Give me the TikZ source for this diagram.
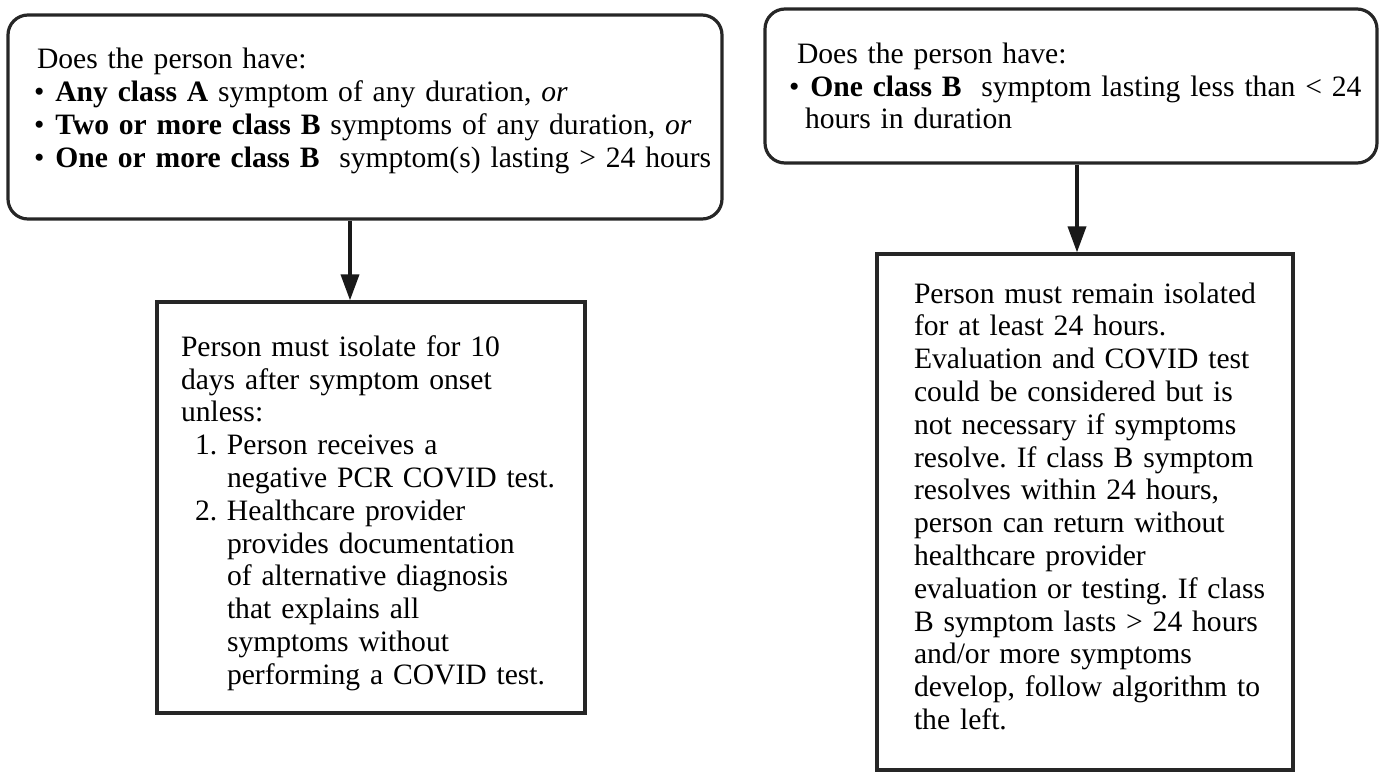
\documentclass[tikz,border=0pt]{standalone}
\usepackage{fontspec}
\setmainfont{Liberation Serif}
\usetikzlibrary{arrows.meta}

\newcommand\bul{\textbullet\hspace{5.5pt}}
\frenchspacing

\begin{document}
\begin{tikzpicture}[x=0.5pt,y=-0.5pt,
	every node/.style={font=\fontsize{14.8}{16.4}\selectfont, align=left, inner xsep=5pt, inner ysep=0pt},
	qbox/.style={draw=black!85, line width=1.6pt, rounded corners=10pt, inner xsep=2pt},
	abox/.style={draw=black!85, line width=1.6pt},
	arr/.style={draw=black!90, line width=1.8pt, -{Triangle[length=13pt,width=9pt]}}]
	\useasboundingbox (0,0) rectangle (1382,772);
	% left: question and answer
	\node[qbox, text width=353pt, minimum height=102pt] (q1) at (365,117) {\leftskip=12.5pt
		Does the person have:\\
		\hspace*{-1.5pt}\bul\textbf{Any class A} symptom of any duration, \textit{or}\\
		\hspace*{-1.5pt}\bul\textbf{Two or more class B} symptoms of any duration, \textit{or}\\
		\hspace*{-1.5pt}\bul\textbf{One or more class B}\ \ symptom(s) lasting > 24 hours\rule[-9.3pt]{0pt}{0pt}\par};
	\node[abox, text width=204pt, minimum height=205.5pt] (a1) at (371,507.5) {\leftskip=7pt
		\rule{0pt}{16pt}Person must isolate for 10\\
		days after symptom onset\\
		unless:\\
		\makebox[23pt][l]{\hspace{7pt}1.}Person receives a\\
		\hspace*{23pt}negative PCR COVID test.\\
		\makebox[23pt][l]{\hspace{7pt}2.}Healthcare provider\\
		\hspace*{23pt}provides documentation\\
		\hspace*{23pt}of alternative diagnosis\\
		\hspace*{23pt}that explains all\\
		\hspace*{23pt}symptoms without\\
		\hspace*{23pt}performing a COVID test.\par};
	% right: question and answer
	\node[qbox, text width=302pt, minimum height=77pt] (q2) at (1071,86) {\leftskip=14pt
		Does the person have:\\
		\hspace*{-4pt}\bul\textbf{One class B}\ \ symptom lasting less than < 24\\
		\hspace*{4pt}hours in duration\par};
	\node[abox, text width=198pt, minimum height=258pt] (a2) at (1085,512) {\leftskip=13.5pt
		Person must remain isolated\\
		for at least 24 hours.\\
		Evaluation and COVID test\\
		could be considered but is\\
		not necessary if symptoms\\
		resolve. If class B symptom\\
		resolves within 24 hours,\\
		person can return without\\
		healthcare provider\\
		evaluation or testing. If class\\
		B symptom lasts > 24 hours\\
		and/or more symptoms\\
		develop, follow algorithm to\\
		the left.\rule[-6pt]{0pt}{0pt}\par};
	\draw[arr] ([xshift=-7.5pt]q1.south) -- ([xshift=-7.5pt]q1.south |- a1.north);
	\draw[arr] ([xshift=3pt]q2.south) -- ([xshift=3pt]q2.south |- a2.north);
\end{tikzpicture}
\end{document}
